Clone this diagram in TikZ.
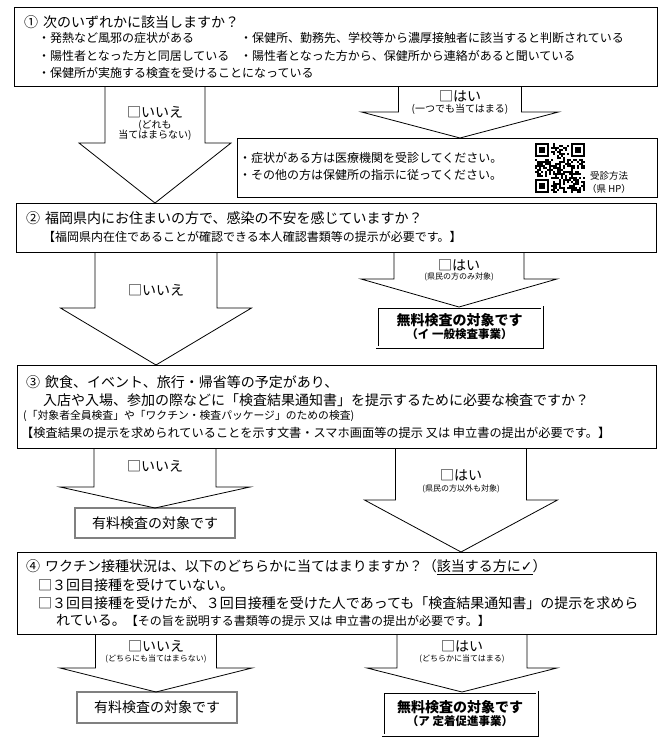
\documentclass[tikz,border=0pt]{standalone}
\usepackage{fontspec}
\setmainfont{Noto Sans CJK JP}
\newfontfamily\symfont{DejaVu Sans}
\usetikzlibrary{positioning,calc}

\newcommand\flowarrow[6]{%
  \draw[arrowbody] let \p1=(#1.south), \p2=(#2.north) in
    ({(#3-#4)*1pt},\y1) -- ({(#3-#4)*1pt},{-#6*1pt}) -- ({(#3-#5)*1pt},{-#6*1pt})
    -- ({#3*1pt},\y2) -- ({(#3+#5)*1pt},{-#6*1pt}) -- ({(#3+#4)*1pt},{-#6*1pt})
    -- ({(#3+#4)*1pt},\y1);}

\begin{document}
\begin{tikzpicture}[x=1pt,y=-1pt,
			qbox/.style={draw,line width=0.8pt,inner sep=0pt,outer sep=0pt,anchor=north west},
			txt/.style={inner sep=0pt,anchor=west,font=\fontsize{12}{14}\selectfont},
			head/.style={txt,font=\fontsize{14}{17}\selectfont},
			small/.style={txt,font=\fontsize{10.8}{13}\selectfont},
			answer/.style={inner sep=0pt,font=\fontsize{14}{17}\selectfont},
			sub/.style={inner sep=0pt,font=\fontsize{10}{12}\selectfont},
			tiny/.style={inner sep=0pt,font=\fontsize{8}{10}\selectfont},
			arrowbody/.style={draw,line width=0.8pt,line join=miter},
			paybox/.style={draw=gray,line width=1.3pt,inner sep=0pt,outer sep=0pt,anchor=north west,
				font=\fontsize{14}{17}\selectfont},
			freebox/.style={draw,double,double distance=1.6pt,line width=0.7pt,inner sep=0pt,
				outer sep=0pt,anchor=north west,align=center,font=\fontsize{14}{13}\selectfont\bfseries}]
			
			\useasboundingbox (0,0) rectangle (670,744);
			
			\node[qbox,minimum width=643,minimum height=79] (q1) at (14,7) {};
			\node[head] (q1a) at (24,22) {①\hspace{.35em}次のいずれかに該当しますか？};
			\node[txt] (q1b) at (38,38) {・発熱など風邪の症状がある};
			\node[txt] (q1c) at (38,56) {・陽性者となった方と同居している};
			\node[txt] (q1d) at (38,73) {・保健所が実施する検査を受けることになっている};
			\node[txt] (q1e) at (240,38) {・保健所、勤務先、学校等から濃厚接触者に該当すると判断されている};
			\node[txt] (q1f) at (240,56) {・陽性者となった方から、保健所から連絡があると聞いている};
			
			\node[qbox,minimum width=420,minimum height=59] (qr) at (237,138) {};
			\node[txt] (qra) at (239,158) {・症状がある方は医療機関を受診してください。};
			\node[txt] (qrb) at (239,175) {・その他の方は保健所の指示に従ってください。};
			\node[tiny,font=\fontsize{9.5}{11}\selectfont] (qrc) at (609,176) {受診方法};
			\node[tiny,font=\fontsize{9.5}{11}\selectfont] (qrd) at (609,189) {（県 HP）};
			
			\begin{scope}[shift={(535,143)}]
				\pgfmathsetseed{11}
				\foreach \i in {0,...,24}{\foreach \j in {0,...,24}{
						\pgfmathtruncatemacro\infind{(\i<8 && \j<8) || (\i>16 && \j<8) || (\i<8 && \j>16)}
						\pgfmathtruncatemacro\bit{rnd<0.5}
						\ifnum\infind=0 \ifnum\bit=1 \fill (2*\i,2*\j) rectangle ++(2,2); \fi\fi}}
				\foreach \p in {(0,0),(36,0),(0,36)}{
					\fill \p rectangle ++(14,14);
					\fill[white] \p ++(2,2) rectangle ++(10,10);
					\fill \p ++(4,4) rectangle ++(6,6);}
			\end{scope}
			
			\node[qbox,minimum width=640,minimum height=49] (q2) at (16,203) {};
			\node[head] (q2a) at (26,218) {②\hspace{.35em}福岡県内にお住まいの方で、感染の不安を感じていますか？};
			\node[txt] (q2b) at (43,237) {【福岡県内在住であることが確認できる本人確認書類等の提示が必要です。】};
			
			\node[freebox,minimum width=165,minimum height=40] (r1) at (377,307)
			{無料検査の対象です\\{\fontsize{11.5}{13}\selectfont （イ 一般検査事業）}};
			
			\node[qbox,minimum width=639,minimum height=83] (q3) at (17,365) {};
			\node[head] (q3a) at (26,382) {③\hspace{.35em}飲食、イベント、旅行・帰省等の予定があり、};
			\node[head] (q3b) at (43,400) {入店や入場、参加の際などに「検査結果通知書」を提示するために必要な検査ですか？};
			\node[small] (q3c) at (23,416) {(「対象者全員検査」や「ワクチン・検査パッケージ」のための検査)};
			\node[txt,font=\fontsize{12.2}{14}\selectfont] (q3d) at (21,433) {【検査結果の提示を求められていることを示す文書・スマホ画面等の提示 又は 申立書の提出が必要です。】};
			
			\node[paybox,minimum width=160,minimum height=30] (g1) at (75,508) {有料検査の対象です};
			
			\node[qbox,minimum width=639,minimum height=82] (q4) at (17,552) {};
			\node[head] (q4a) at (26,567) {④\hspace{.35em}ワクチン接種状況は、以下のどちらかに当てはまりますか？（\underline{該当する方に{\symfont ✓}}）};
			\node[head] (q4b) at (38,585) {□３回目接種を受けていない。};
			\node[head] (q4c) at (38,603) {□３回目接種を受けたが、３回目接種を受けた人であっても「検査結果通知書」の提示を求めら};
			\node[head] (q4d) at (56,620) {れている。{\fontsize{12}{14}\selectfont 【その旨を説明する書類等の提示 又は 申立書の提出が必要です。】}};
			
			\node[paybox,minimum width=160,minimum height=31] (g2) at (77,692) {有料検査の対象です};
			\node[freebox,minimum width=154,minimum height=43] (r2) at (383,692)
			{無料検査の対象です\\{\fontsize{11.5}{13}\selectfont （ア 定着促進事業）}};
			
			\flowarrow{q1}{q2}{155}{50}{76}{143}
			\flowarrow{q1}{qr}{460}{61.5}{98.5}{112}
			\flowarrow{q2}{q3}{156}{61}{95.5}{308}
			\flowarrow{q2}{r1}{459}{65}{98}{279}
			\flowarrow{q3}{g1}{155}{61}{95}{487}
			\flowarrow{q3}{q4}{461}{65.5}{96.5}{500}
			\flowarrow{q4}{g2}{156}{60.5}{96}{668}
			\flowarrow{q4}{r2}{462}{65}{95}{668}
			
			\node[answer] (n1) at (155,112) {□いいえ};
			\node[sub] (n1s) at (155,125) {(どれも};
			\node[sub] (n1t) at (155,135) {当てはまらない)};
			\node[answer] (y1) at (460,96) {□はい};
			\node[sub] (y1s) at (460,109.5) {(一つでも当てはまる)};
			
			\node[answer] (n2) at (156,290) {□いいえ};
			\node[answer] (y2) at (459,265) {□はい};
			\node[tiny] (y2s) at (459,277) {(県民の方のみ対象)};
			
			\node[answer] (n3) at (155,466) {□いいえ};
			\node[answer] (y3) at (461,475) {□はい};
			\node[tiny] (y3s) at (461,489) {(県民の方以外も対象)};
			
			\node[answer] (n4) at (156,646) {□いいえ};
			\node[tiny] (n4s) at (156,659) {(どちらにも当てはまらない)};
			\node[answer] (y4) at (462,646) {□はい};
			\node[tiny] (y4s) at (462,659) {(どちらかに当てはまる)};
			
		\end{tikzpicture}
\end{document}
